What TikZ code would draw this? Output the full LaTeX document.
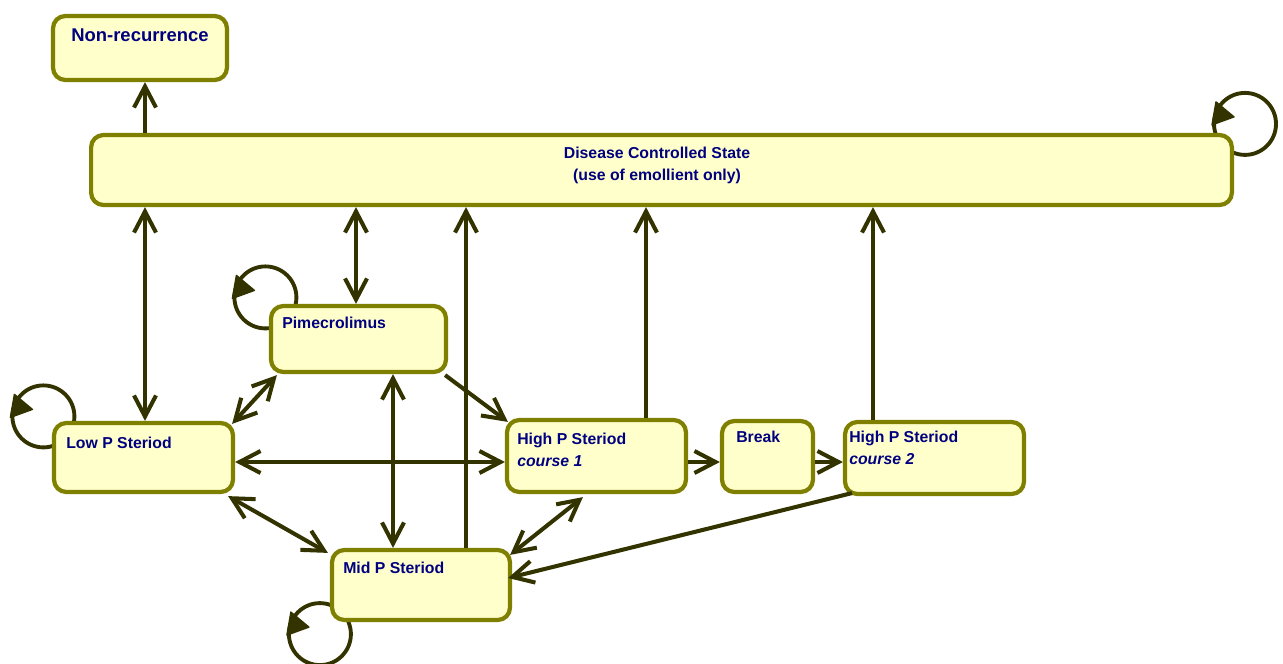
\documentclass[tikz,border=0pt]{standalone}
\usepackage{fontspec}
\setmainfont{Liberation Sans}
\usetikzlibrary{arrows.meta,calc,backgrounds}
\definecolor{boxfill}{HTML}{FFFFCC}
\definecolor{boxline}{HTML}{808000}
\definecolor{txtblue}{HTML}{000080}
\definecolor{arrowcol}{HTML}{333300}
\begin{document}
\begin{tikzpicture}[x=0.02cm,y=-0.02cm,
  >={Straight Barb[length=12pt,width=12.5pt]},
  box/.style={draw=boxline, fill=boxfill, line width=2.4pt, rounded corners=7pt, inner sep=0pt},
  lbl/.style={text=txtblue, font=\bfseries\fontsize{9}{12.5}\selectfont, inner sep=0pt},
  biglbl/.style={text=txtblue, font=\bfseries\fontsize{10.5}{13}\selectfont, inner sep=0pt},
  link/.style={draw=arrowcol, line width=2.3pt},
  selfloop/.style={draw=arrowcol, line width=2.2pt},
  looptip/.style={fill=arrowcol, draw=arrowcol, line width=0.8pt, line join=round}
]
\useasboundingbox (0,0) rectangle (1283,663);

% states
\node[box, minimum width=3.48cm, minimum height=1.28cm] (nonrec) at (140,48) {};
\node[box, minimum width=22.82cm, minimum height=1.40cm] (dcs) at (661.5,170) {};
\node[box, minimum width=3.50cm, minimum height=1.32cm] (pime) at (358.5,339) {};
\node[box, minimum width=3.58cm, minimum height=1.38cm] (low) at (143.5,457.5) {};
\node[box, minimum width=3.56cm, minimum height=1.40cm] (mid) at (421,585) {};
\node[box, minimum width=3.58cm, minimum height=1.44cm] (high1) at (596.5,456) {};
\node[box, minimum width=1.82cm, minimum height=1.42cm] (brk) at (767.5,456.5) {};
\node[box, minimum width=3.58cm, minimum height=1.44cm] (high2) at (934.5,458) {};

% state labels
\node[biglbl, anchor=base] (nonrect) at ($(nonrec.north)+(0,28)$) {Non-recurrence};
\node[lbl, anchor=north, align=center] (dcst) at ($(dcs.north)+(-4.5,14)$) {Disease Controlled State\\(use of emollient only)};
\node[lbl, anchor=base west] (pimet) at ($(pime.north west)+(13,25)$) {Pimecrolimus};
\node[lbl, anchor=base west] (lowt) at ($(low.north west)+(14,28)$) {Low P Steriod};
\node[lbl, anchor=base west] (midt) at ($(mid.north west)+(13,26)$) {Mid P Steriod};
\node[lbl, anchor=base west] (brkt) at ($(brk.north west)+(16,24)$) {Break};
\node[lbl, anchor=north west, align=left] (high1t) at ($(high1.north west)+(12,15)$) {High P Steriod\\\textit{course 1}};
\node[lbl, anchor=north west, align=left] (high2t) at ($(high2.north west)+(6,10.5)$) {High P Steriod\\\textit{course 2}};

% vertical guide positions
\coordinate (xa) at (145,0);
\coordinate (xb) at (356,0);
\coordinate (xc) at (466,0);
\coordinate (xd) at (646,0);
\coordinate (xe) at (873,0);
\coordinate (xf) at (393,0);
\coordinate (yr) at (0,462);

% transitions
\draw[link,->] (dcs.north -| xa) -- (nonrec.south -| xa);
\draw[link,<->] (dcs.south -| xa) -- (low.north -| xa);
\draw[link,<->] (dcs.south -| xb) -- (pime.north -| xb);
\draw[link,->] (mid.north -| xc) -- (dcs.south -| xc);
\draw[link,->] (high1.north -| xd) -- (dcs.south -| xd);
\draw[link,->] (high2.north -| xe) -- (dcs.south -| xe);
\draw[link,<->] (pime.south -| xf) -- (mid.north -| xf);
\draw[link,<->] (low.east |- yr) -- (high1.west |- yr);
\draw[link,->] (high1.east |- yr) -- (brk.west |- yr);
\draw[link,->] (brk.east |- yr) -- (high2.west |- yr);
\draw[link,<->] ($(pime.south west)+(8,1)$) -- ($(low.north east)+(-3,3)$);
\draw[link,->] ($(pime.south east)+(-3,1)$) -- ($(high1.north west)+(3,4)$);
\draw[link,<->] ($(low.south east)+(-7,2)$) -- ($(mid.north west)+(-2,5)$);
\draw[link,<->] ($(high1.south west)+(78,3)$) -- ($(mid.north east)+(-2,7)$);
\draw[link,->] ($(high2.south west)+(9,-3)$) -- ($(mid.east)+(-4,-7)$);

% self transitions
\begin{scope}[on background layer]
  \coordinate (ldcs) at ($(dcs.north east)+(11,-9)$);
  \coordinate (lpime) at ($(pime.north west)+(-3.5,-6.5)$);
  \coordinate (llow) at ($(low.north west)+(-8.5,-4.5)$);
  \coordinate (lmid) at ($(mid.south west)+(-10,12)$);
  \foreach \c in {ldcs,lpime,llow,lmid}{
    \draw[selfloop] (\c) circle[radius=0.62cm];
    \filldraw[looptip] ($(\c)+(-29,-22)$) -- ($(\c)+(-11,-7)$) -- ($(\c)+(-33,1)$) -- cycle;
  }
\end{scope}
\end{tikzpicture}
\end{document}
